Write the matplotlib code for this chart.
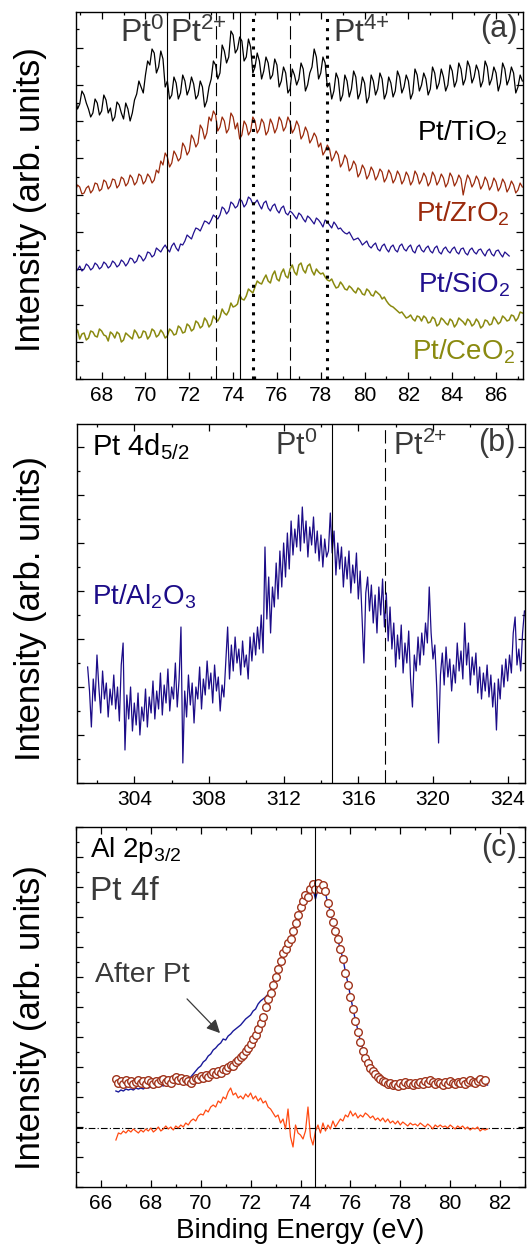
import numpy as np
import matplotlib
matplotlib.use('Agg')
import matplotlib.pyplot as plt
from matplotlib.ticker import MultipleLocator

plt.rcParams['font.family'] = ['Liberation Sans', 'DejaVu Sans']
plt.rcParams['mathtext.fontset'] = 'custom'
plt.rcParams['mathtext.rm'] = 'Liberation Sans'
plt.rcParams['mathtext.it'] = 'Liberation Sans:italic'
plt.rcParams['mathtext.bf'] = 'Liberation Sans:bold'

# ---------- panel (a): Pt 4f, intensities (arb. units) ----------
a_start, a_step = 66.8, 0.1
a_tio2 = [282, 270, 275, 288, 284, 276, 270, 262, 266, 280, 276, 264, 268, 284, 279, 266, 271, 258, 262, 277,
          274, 266, 260, 276, 270, 258, 266, 279, 285, 298, 292, 286, 304, 318, 314, 330, 326, 306, 312, 328,
          320, 292, 298, 280, 284, 302, 296, 280, 286, 304, 298, 284, 290, 302, 295, 280, 284, 298, 292, 272,
          278, 292, 300, 318, 314, 300, 306, 334, 328, 316, 322, 348, 344, 326, 330, 342, 338, 318, 322, 340,
          332, 306, 312, 326, 318, 300, 308, 322, 316, 300, 304, 320, 314, 292, 298, 312, 306, 286, 290, 310,
          304, 294, 300, 316, 310, 288, 294, 306, 312, 330, 322, 300, 306, 322, 316, 292, 296, 280, 288, 306,
          300, 278, 284, 304, 298, 282, 290, 308, 302, 280, 286, 302, 296, 276, 282, 304, 298, 284, 290, 306,
          300, 280, 286, 302, 296, 282, 288, 308, 302, 286, 292, 304, 298, 280, 286, 310, 304, 288, 294, 306,
          300, 284, 290, 312, 306, 290, 296, 310, 302, 288, 294, 314, 308, 292, 298, 316, 310, 294, 300, 318,
          312, 296, 302, 314, 308, 292, 298, 318, 312, 294, 300, 312, 306, 288, 296, 316, 310, 294, 300, 312,
          306, 286, 292, 304, 298]
a_zro2 = [188, 194, 192, 185, 186, 191, 193, 186, 189, 196, 195, 188, 190, 199, 197, 190, 193, 200, 199, 191,
          194, 202, 200, 193, 196, 204, 201, 194, 197, 205, 203, 195, 198, 205, 202, 196, 199, 209, 206, 218,
          214, 226, 222, 212, 216, 228, 224, 218, 221, 236, 232, 224, 228, 244, 240, 232, 236, 254, 250, 240,
          246, 262, 258, 268, 264, 248, 252, 262, 258, 246, 250, 266, 262, 250, 256, 240, 244, 258, 254, 244,
          248, 262, 258, 246, 250, 260, 256, 244, 248, 260, 255, 246, 251, 262, 258, 248, 252, 262, 257, 246,
          250, 258, 253, 240, 244, 252, 247, 236, 240, 246, 242, 232, 236, 224, 228, 234, 230, 218, 222, 228,
          224, 212, 216, 224, 220, 208, 211, 218, 214, 202, 206, 214, 210, 200, 204, 212, 208, 199, 203, 210,
          207, 197, 201, 209, 205, 196, 200, 208, 204, 195, 199, 207, 203, 194, 198, 208, 204, 195, 199, 206,
          202, 193, 197, 207, 203, 194, 198, 205, 201, 192, 196, 206, 202, 193, 197, 204, 200, 184, 195, 204,
          200, 192, 196, 203, 199, 190, 194, 202, 198, 189, 193, 201, 197, 188, 192, 200, 196, 187, 191, 198,
          194, 186, 189, 196, 192]
a_sio2 = [111, 109, 113, 108, 110, 115, 113, 109, 111, 116, 114, 110, 112, 117, 115, 111, 113, 118, 116, 112,
          114, 119, 117, 113, 116, 121, 120, 116, 118, 124, 122, 118, 121, 127, 126, 122, 124, 131, 129, 127,
          131, 134, 130, 127, 133, 136, 131, 128, 135, 134, 138, 144, 142, 140, 146, 151, 150, 148, 153, 158,
          157, 155, 159, 164, 162, 160, 164, 172, 170, 165, 168, 177, 175, 171, 173, 180, 178, 172, 175, 182,
          180, 175, 176, 179, 174, 170, 176, 178, 171, 168, 173, 175, 169, 166, 171, 173, 166, 164, 168, 166,
          163, 160, 166, 164, 160, 157, 163, 161, 158, 155, 161, 159, 156, 152, 159, 157, 154, 151, 157, 154,
          150, 151, 148, 146, 145, 147, 143, 139, 140, 141, 138, 134, 136, 138, 133, 131, 134, 136, 130, 128,
          133, 135, 130, 127, 132, 134, 129, 127, 133, 135, 130, 128, 132, 134, 128, 126, 132, 134, 129, 127,
          131, 133, 128, 126, 131, 133, 127, 125, 130, 132, 128, 126, 130, 132, 127, 125, 130, 131, 126, 124,
          129, 131, 127, 125, 129, 130, 126, 123, 128, 130, 125, 123, 128, 129, 125, 122, 127, 125, 123]
a_ceo2 = [44, 49, 40, 45, 46, 39, 41, 48, 47, 43, 42, 50, 48, 44, 43, 38, 47, 45, 41, 47,
          45, 37, 39, 46, 44, 42, 40, 49, 46, 41, 42, 48, 47, 40, 43, 50, 48, 42, 44, 49,
          46, 41, 43, 50, 48, 44, 45, 53, 51, 46, 47, 55, 53, 48, 50, 58, 56, 51, 53, 61,
          58, 52, 55, 63, 60, 58, 62, 70, 66, 64, 68, 76, 72, 73, 75, 84, 80, 79, 83, 90,
          88, 86, 92, 98, 96, 95, 100, 104, 98, 96, 104, 108, 100, 98, 106, 110, 103, 101, 110, 114,
          107, 104, 114, 116, 109, 106, 113, 115, 108, 104, 110, 107, 105, 106, 102, 99, 98, 100, 95, 91,
          92, 97, 94, 90, 89, 93, 91, 88, 86, 91, 89, 85, 84, 90, 88, 84, 83, 88, 86, 84,
          80, 82, 78, 75, 73, 72, 70, 68, 66, 67, 64, 61, 62, 64, 60, 58, 63, 62, 58, 63,
          61, 56, 57, 62, 60, 53, 55, 61, 59, 56, 54, 60, 58, 52, 55, 61, 59, 57, 54, 60,
          58, 53, 55, 60, 57, 51, 53, 59, 58, 54, 55, 62, 59, 55, 57, 63, 61, 58, 59, 64,
          63, 58, 61, 67, 66]
a_solid = [71.0, 74.3]
a_dashed = [73.2, 76.6]
a_dotted = [74.9, 78.3]

# ---------- panel (b): Pt 4d5/2 on Al2O3 ----------
b_start, b_step = 301.5, 0.1
b_al2o3 = [116, 92, 56, 104, 82, 128, 96, 70, 112, 84,
           100, 66, 94, 78, 108, 74, 96, 62, 118, 140,
           33, 88, 64, 96, 52, 80, 58, 90, 48, 76,
           62, 94, 56, 86, 70, 102, 64, 92, 74, 110,
           68, 98, 80, 114, 72, 96, 84, 120, 76, 104,
           156, 20, 92, 66, 108, 78, 100, 60, 96, 84,
           116, 74, 104, 88, 122, 94, 110, 80, 118, 92,
           106, 72, 98, 86, 120, 156, 104, 138, 112, 146,
           120, 134, 108, 142, 116, 128, 104, 146, 122, 150,
           128, 156, 134, 168, 130, 236, 164, 206, 150, 196,
           176, 220, 184, 232, 196, 240, 206, 250, 214, 262,
           228, 254, 236, 268, 232, 276, 240, 262, 226, 256,
           238, 266, 230, 252, 222, 248, 216, 244, 226, 232,
           270, 230, 252, 208, 240, 214, 236, 196, 226, 204,
           232, 190, 218, 200, 230, 184, 212, 166, 120, 190,
           206, 172, 198, 160, 188, 150, 196, 168, 204, 156,
           190, 142, 176, 134, 160, 116, 148, 124, 158, 110,
           140, 120, 152, 104, 76, 128, 112, 146, 118, 150,
           128, 160, 140, 196, 150, 124, 138, 96, 40, 108,
           130, 98, 136, 106, 124, 92, 118, 100, 140, 112,
           132, 104, 160, 118, 140, 98, 126, 108, 130, 90,
           116, 84, 110, 92, 118, 86, 108, 76, 100, 53,
           104, 84, 118, 96, 124, 102, 128, 110, 150, 166,
           118, 134, 112, 150, 172]
b_solid = 314.6
b_dashed = 317.45

# ---------- panel (c): Al 2p3/2 / Pt 4f ----------
c_start, c_step = 66.6, 0.1
c_fit = [108, 104, 106, 103, 107, 104, 106, 103, 105, 107,
         104, 106, 103, 107, 105, 103, 106, 104, 107, 108,
         105, 107, 104, 108, 110, 107, 109, 106, 108, 106,
         104, 107, 109, 108, 111, 109, 112, 110, 113, 115,
         113, 116, 114, 118, 117, 120, 122, 121, 125, 127,
         130, 132, 136, 139, 143, 148, 152, 158, 164, 170,
         180, 188, 194, 202, 210, 218, 226, 234, 238, 244,
         248, 256, 264, 272, 280, 286, 292, 290, 298, 303,
         298, 304, 298, 302, 296, 284, 274, 265, 256, 248,
         238, 228, 214, 202, 190, 178, 166, 155, 145, 136,
         129, 124, 119, 116, 113, 110, 108, 106, 105, 103,
         104, 102, 103, 101, 104, 102, 105, 103, 104, 102,
         104, 103, 105, 103, 106, 104, 107, 105, 103, 105,
         104, 102, 105, 103, 106, 104, 103, 105, 104, 106,
         103, 105, 107, 105, 104, 106, 108, 105, 107]
c_after = [96, 95, 97, 96, 98, 97, 98, 97, 99, 98,
           99, 98, 100, 99, 100, 99, 101, 100, 102, 101,
           103, 102, 104, 105, 104, 106, 105, 107, 106, 108,
           110, 113, 116, 119, 121, 125, 127, 131, 133, 137,
           139, 142, 144, 148, 147, 151, 153, 156, 158, 160,
           162, 165, 168, 170, 172, 176, 178, 183, 186, 188,
           190, 193, 196, 205, 211, 219, 227, 234, 239, 244,
           249, 256, 263, 271, 279, 285, 290, 288, 295, 298,
           288, 298, 296, 299, 294, 283, 275, 264, 255, 247,
           237, 229, 215, 204, 191, 179, 167, 157, 146, 138,
           130, 125, 120, 117, 114, 111, 108, 107, 105, 104,
           105, 103, 104, 102, 104, 103, 104, 102, 104, 103,
           104, 102, 104, 103, 105, 103, 105, 104, 103, 104,
           103, 102, 104, 103, 105, 103, 104, 103, 104, 105,
           103, 104, 105, 104, 103, 104, 105, 103, 104, 102]
c_diff = [47, 54, 53, 56, 54, 57, 55, 58, 56, 54,
          57, 55, 58, 56, 59, 55, 57, 60, 56, 58,
          61, 58, 60, 57, 61, 59, 62, 60, 64, 62,
          66, 68, 66, 71, 73, 72, 77, 75, 80, 82,
          80, 86, 84, 90, 88, 95, 99, 92, 94, 89,
          91, 88, 93, 90, 94, 88, 91, 86, 89, 84,
          86, 80, 78, 74, 70, 72, 64, 68, 58, 78,
          50, 40, 62, 54, 52, 48, 56, 80, 50, 42,
          56, 62, 54, 64, 56, 62, 58, 66, 60, 64,
          68, 66, 72, 70, 76, 71, 74, 69, 72, 70,
          74, 72, 69, 71, 67, 69, 66, 69, 65, 68,
          64, 66, 63, 66, 62, 65, 63, 61, 64, 62,
          63, 61, 64, 62, 60, 63, 61, 58, 62, 60,
          62, 60, 61, 59, 62, 60, 58, 61, 59, 61,
          58, 60, 57, 59, 58, 60, 56, 58, 57, 58]
c_zero = 59
c_line = 74.6


def energies(start, step, vals):
    return start + step * np.arange(len(vals))


def style(ax, xmaj, xmin, ymaj, ymin):
    ax.xaxis.set_major_locator(MultipleLocator(xmaj))
    ax.xaxis.set_minor_locator(MultipleLocator(xmin))
    ax.yaxis.set_major_locator(MultipleLocator(ymaj))
    ax.yaxis.set_minor_locator(MultipleLocator(ymin))
    ax.tick_params(which='both', direction='in', top=True, right=True,
                   labelleft=False, width=0.9)
    ax.tick_params(which='major', length=5, labelsize=15, pad=5)
    ax.tick_params(which='minor', length=2.5)
    for s in ax.spines.values():
        s.set_linewidth(1.0)
    ax.set_ylabel('Intensity (arb. units)', fontsize=25)


W, H = 527, 1259
fig = plt.figure(figsize=(W / 100, H / 100), dpi=100)
gray = '#3a3a3a'
sup2 = r'Pt$^{\mathregular{2{+}}}$'
sup4 = r'Pt$^{\mathregular{4{+}}}$'
sup0 = r'Pt$^{\mathregular{0}}$'

# ----- (a) -----
ax = fig.add_axes([76 / W, 1 - 379 / H, 447 / W, 367 / H])
for vals, col, lw in [(a_tio2, 'black', 0.9), (a_zro2, '#9a2a0c', 0.9),
                      (a_sio2, '#22118f', 0.9), (a_ceo2, '#8a8a10', 1.1)]:
    ax.plot(energies(a_start, a_step, vals), vals, color=col, lw=lw)
for x in a_solid:
    ax.axvline(x, color='black', lw=0.8)
for x in a_dashed:
    ax.axvline(x, color='black', lw=0.8, dashes=(12, 5))
for x in a_dotted:
    ax.axvline(x, color='black', lw=2.2, linestyle=(0, (1, 2)))
ax.set_xlim(66.83, 87.23)
ax.set_ylim(0, 367)
style(ax, 2, 1, 36.8, 18.4)
ax.yaxis.set_label_coords(-0.065, 0.49)
t = ax.transAxes
ax.text(0.198, 0.918, sup0, transform=t, ha='right', va='baseline', fontsize=23, color=gray)
ax.text(0.210, 0.918, sup2, transform=t, ha='left', va='baseline', fontsize=23, color=gray)
ax.text(0.575, 0.918, sup4, transform=t, ha='left', va='baseline', fontsize=23, color=gray)
ax.text(0.987, 0.954, '(a)', transform=t, ha='right', va='center', fontsize=22, color=gray)
ax.text(0.966, 0.651, r'Pt/TiO$_{\mathregular{2}}$', transform=t, ha='right', va='baseline', fontsize=20, color='black')
ax.text(0.971, 0.428, r'Pt/ZrO$_{\mathregular{2}}$', transform=t, ha='right', va='baseline', fontsize=20, color='#9a2a0c')
ax.text(0.971, 0.237, r'Pt/SiO$_{\mathregular{2}}$', transform=t, ha='right', va='baseline', fontsize=20, color='#22118f')
ax.text(0.982, 0.052, r'Pt/CeO$_{\mathregular{2}}$', transform=t, ha='right', va='baseline', fontsize=20, color='#8a8a10')

# ----- (b) -----
ax = fig.add_axes([77 / W, 1 - 783 / H, 448 / W, 359 / H])
ax.plot(energies(b_start, b_step, b_al2o3), b_al2o3, color='#1c0c88', lw=0.9)
ax.axvline(b_solid, color='black', lw=0.8)
ax.axvline(b_dashed, color='black', lw=0.8, dashes=(12, 5))
ax.set_xlim(300.93, 324.93)
ax.set_ylim(0, 359)
style(ax, 4, 2, 48, 24)
ax.yaxis.set_label_coords(-0.067, 0.485)
t = ax.transAxes
ax.text(0.034, 0.914, r'Pt 4d$_{\mathregular{5/2}}$', transform=t, ha='left', va='baseline', fontsize=21, color='black')
ax.text(0.442, 0.914, sup0, transform=t, ha='left', va='baseline', fontsize=22, color=gray)
ax.text(0.705, 0.914, sup2, transform=t, ha='left', va='baseline', fontsize=22, color=gray)
ax.text(0.978, 0.947, '(b)', transform=t, ha='right', va='center', fontsize=22, color=gray)
ax.text(0.034, 0.496, r'Pt/Al$_{\mathregular{2}}$O$_{\mathregular{3}}$', transform=t, ha='left', va='baseline', fontsize=20, color='#1c0c88')

# ----- (c) -----
ax = fig.add_axes([76 / W, 1 - 1187 / H, 449 / W, 360 / H])
ax.axhline(c_zero, color='black', lw=0.8, dashes=(6, 2, 1, 2))
ax.plot(energies(c_start, c_step, c_after), c_after, color='#1a1a9a', lw=1.0)
ax.plot(energies(c_start, c_step, c_fit), c_fit, linestyle='none', marker='o', ms=5.5,
        mfc='white', mec='#a0341c', mew=1.0)
ax.plot(energies(c_start, c_step, c_diff), c_diff, color='#ff4a12', lw=0.9)
ax.axvline(c_line, color='black', lw=0.8)
ax.set_xlim(65.0, 83.0)
ax.set_ylim(0, 360)
style(ax, 2, 1, 30, 15)
ax.yaxis.set_label_coords(-0.065, 0.47)
ax.set_xlabel('Binding Energy (eV)', fontsize=20, labelpad=4)
t = ax.transAxes
ax.text(0.031, 0.917, r'Al 2p$_{\mathregular{3/2}}$', transform=t, ha='left', va='baseline', fontsize=20, color='black')
ax.text(0.031, 0.797, 'Pt 4f', transform=t, ha='left', va='baseline', fontsize=24, color=gray)
ax.text(0.982, 0.942, '(c)', transform=t, ha='right', va='center', fontsize=22, color=gray)
ax.text(0.042, 0.569, 'After Pt', transform=t, ha='left', va='baseline', fontsize=20.5, color=gray)
ax.annotate('', xy=(0.325, 0.422), xytext=(0.243, 0.528), xycoords='axes fraction',
            arrowprops=dict(arrowstyle='-|>', color=gray, lw=0.9, mutation_scale=20))

fig.savefig('out.png', dpi=100)
